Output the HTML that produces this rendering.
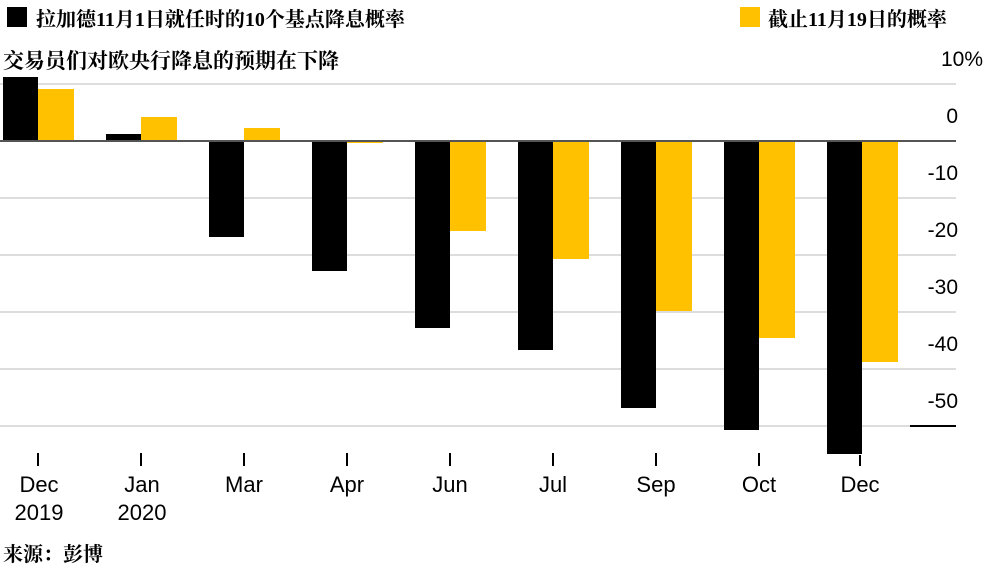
<!DOCTYPE html>
<html><head><meta charset="utf-8"><style>
body{margin:0;background:#fff;width:986px;height:577px;overflow:hidden;font-family:"Liberation Sans","Noto Sans CJK SC",sans-serif}
</style></head><body>
<svg width="986" height="577" xmlns="http://www.w3.org/2000/svg" style="position:absolute;left:0;top:0">
<g font-family="'Liberation Serif','Noto Serif CJK SC',serif" font-weight="bold" fill="#000">
<rect x="7" y="7" width="20" height="20" fill="#000"/>
<text x="36" y="26" font-size="20">拉加德11月1日就任时的10个基点降息概率</text>
<rect x="740" y="7" width="20" height="20" fill="#FFC100"/>
<text x="768" y="26" font-size="20">截止11月19日的概率</text>
<text x="3" y="68" font-size="21">交易员们对欧央行降息的预期在下降</text>
<text x="3" y="561" font-size="20">来源：彭博</text>
</g>
<g stroke="#ddd" stroke-width="2">
<line x1="0" y1="84" x2="956" y2="84"/>
<line x1="0" y1="198" x2="956" y2="198"/>
<line x1="0" y1="255" x2="956" y2="255"/>
<line x1="0" y1="312" x2="956" y2="312"/>
<line x1="0" y1="369" x2="956" y2="369"/>
<line x1="0" y1="426" x2="910" y2="426"/>
</g>
<line x1="910" y1="426" x2="956" y2="426" stroke="#000" stroke-width="2"/>
<g fill="#000">
<rect x="3" y="77" width="35" height="64"/>
<rect x="106" y="134" width="35" height="7"/>
<rect x="209" y="141" width="35" height="96"/>
<rect x="312" y="141" width="35" height="130"/>
<rect x="415" y="141" width="35" height="187"/>
<rect x="518" y="141" width="35" height="209"/>
<rect x="621" y="141" width="35" height="267"/>
<rect x="724" y="141" width="35" height="289"/>
<rect x="827" y="141" width="35" height="313"/>
</g>
<g fill="#FFC100">
<rect x="38" y="89" width="36" height="52"/>
<rect x="141" y="117" width="36" height="24"/>
<rect x="244" y="128" width="36" height="13"/>
<rect x="347" y="141" width="36" height="2"/>
<rect x="450" y="141" width="36" height="90"/>
<rect x="553" y="141" width="36" height="118"/>
<rect x="656" y="141" width="36" height="170"/>
<rect x="759" y="141" width="36" height="197"/>
<rect x="862" y="141" width="36" height="221"/>
</g>
<line x1="0" y1="141" x2="956" y2="141" stroke="#555" stroke-width="2"/>
<g stroke="#000" stroke-width="2">
<line x1="38" y1="453" x2="38" y2="466"/><line x1="141" y1="453" x2="141" y2="466"/>
<line x1="244" y1="453" x2="244" y2="466"/><line x1="347" y1="453" x2="347" y2="466"/>
<line x1="450" y1="453" x2="450" y2="466"/><line x1="553" y1="453" x2="553" y2="466"/>
<line x1="656" y1="453" x2="656" y2="466"/><line x1="759" y1="453" x2="759" y2="466"/>
<line x1="860" y1="455" x2="860" y2="466"/>
</g>
<g font-size="22" fill="#000" text-anchor="middle">
<text x="39" y="492">Dec</text><text x="39" y="520">2019</text>
<text x="142" y="492">Jan</text><text x="142" y="520">2020</text>
<text x="244" y="492">Mar</text><text x="347" y="492">Apr</text>
<text x="450" y="492">Jun</text><text x="553" y="492">Jul</text>
<text x="656" y="492">Sep</text><text x="759" y="492">Oct</text>
<text x="860" y="492">Dec</text>
</g>
<g font-size="21" fill="#000" text-anchor="end">
<text x="983" y="66">10%</text>
<text x="958" y="123">0</text>
<text x="958" y="180">-10</text>
<text x="958" y="237">-20</text>
<text x="958" y="294">-30</text>
<text x="958" y="351">-40</text>
<text x="958" y="408">-50</text>
</g>
</svg>
</body></html>
